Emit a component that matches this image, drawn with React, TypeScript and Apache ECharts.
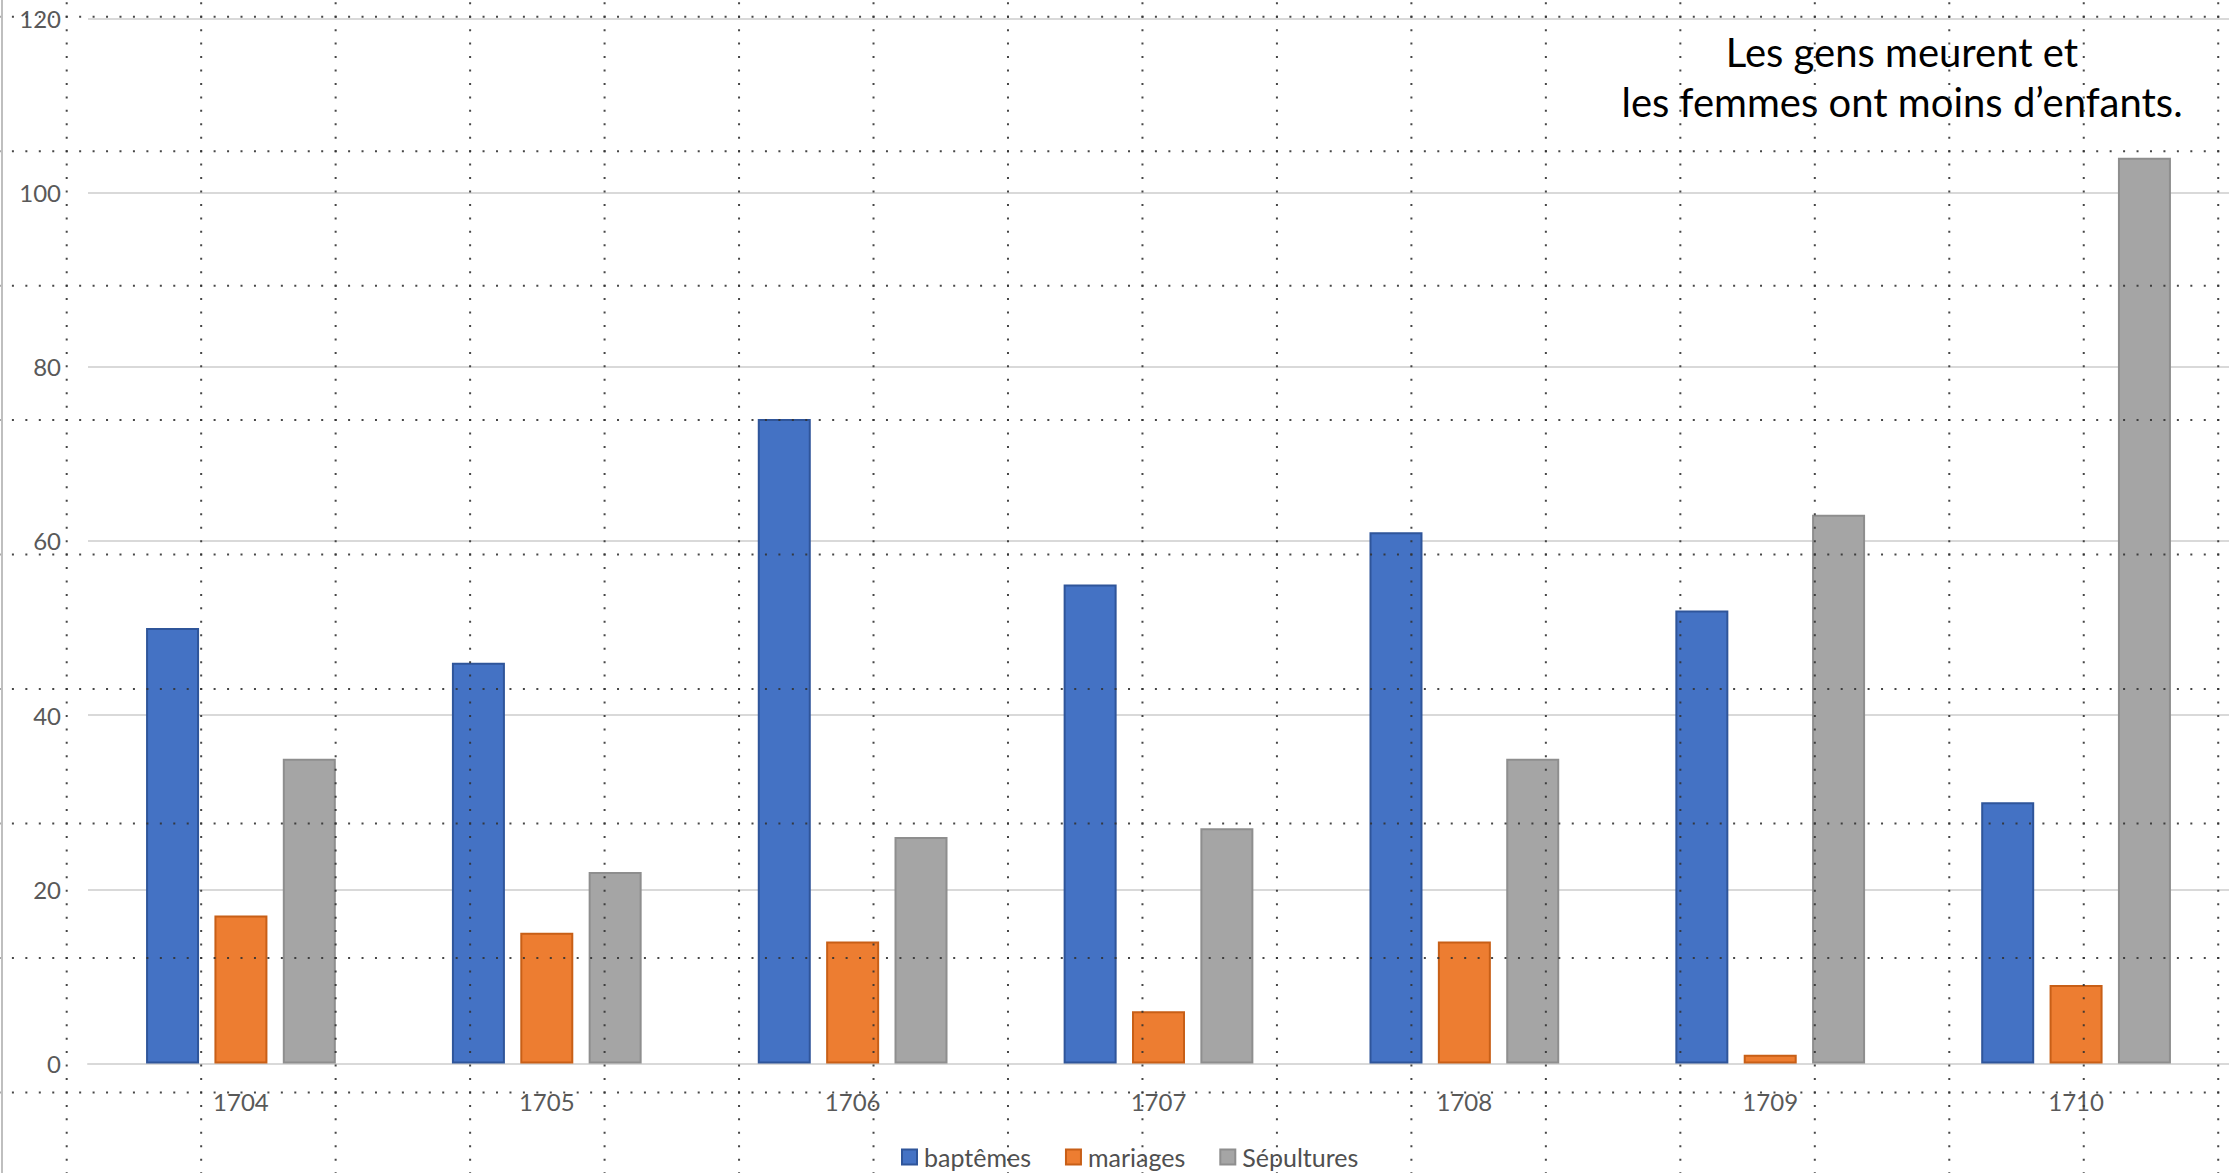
import React, { useEffect, useRef } from "react";
import * as echarts from "echarts";

// Parish register counts per year
const years = ["1704", "1705", "1706", "1707", "1708", "1709", "1710"];
const baptemes = [50, 46, 74, 55, 61, 52, 30];
const mariages = [17, 15, 14, 6, 14, 1, 9];
const sepultures = [35, 22, 26, 27, 35, 63, 104];
const seriesNames = ["baptêmes", "mariages", "Sépultures"];
const yTicks = { min: 0, max: 120, interval: 20 };

const W = 2229;
const H = 1173;
const FONT = "Lato, 'Noto Sans', sans-serif";

// Dotted layout grid laid over the whole slide
function dottedGrid() {
  const step = 134.47;
  const pitch = step / 10;
  const ox = 66.7;
  const oy = 16.7;
  const els: any[] = [];
  const style = { stroke: "#333333", lineWidth: 2, lineDash: [2, pitch - 2], opacity: 0.9 };
  for (let i = 0; i < 17; i++) {
    const x = ox + i * step;
    els.push({
      type: "line",
      silent: true,
      z: 100,
      shape: { x1: x, y1: oy - 2 * pitch - 1, x2: x, y2: H },
      style,
    });
  }
  for (let j = 0; j < 9; j++) {
    const y = oy + j * step;
    els.push({
      type: "line",
      silent: true,
      z: 100,
      shape: { x1: ox - 5 * pitch - 1, y1: y, x2: W, y2: y },
      style,
    });
  }
  return els;
}

export default function App() {
  const ref = useRef<HTMLDivElement>(null);

  useEffect(() => {
    document.body.style.margin = "0";
    const chart = echarts.init(ref.current!, null, { renderer: "svg" });

    const barStyle = (fill: string, border: string) => ({
      color: fill,
      borderColor: border,
      borderWidth: 2,
    });

    chart.setOption({
      animation: false,
      backgroundColor: "#ffffff",
      textStyle: { fontFamily: FONT },
      grid: { left: 88, top: 18.3, width: 2144, height: 1045.2, containLabel: false },
      legend: {
        data: seriesNames,
        left: 896,
        top: 1139,
        itemWidth: 15,
        itemHeight: 15,
        itemGap: 34,
        icon: "rect",
        textStyle: {
          fontFamily: FONT,
          fontSize: 25,
          lineHeight: 26,
          color: "#505050",
          padding: [0, 0, 0, 2],
        },
      },
      xAxis: {
        type: "category",
        data: years,
        axisLine: { show: true, lineStyle: { color: "#D9D9D9", width: 2 } },
        axisTick: { show: false },
        axisLabel: { fontFamily: FONT, fontSize: 24, color: "#595959", margin: 26 },
        splitLine: { show: false },
      },
      yAxis: {
        type: "value",
        min: yTicks.min,
        max: yTicks.max,
        interval: yTicks.interval,
        axisLine: { show: false },
        axisTick: { show: false },
        axisLabel: { fontFamily: FONT, fontSize: 24, color: "#595959", margin: 27 },
        splitLine: { show: true, lineStyle: { color: "#D9D9D9", width: 2 } },
      },
      series: [
        {
          name: seriesNames[0],
          type: "bar",
          data: baptemes,
          barWidth: 53,
          barGap: "29%",
          itemStyle: barStyle("#4472C4", "#2F559A"),
        },
        {
          name: seriesNames[1],
          type: "bar",
          data: mariages,
          barWidth: 53,
          barGap: "29%",
          itemStyle: barStyle("#ED7D31", "#C85F17"),
        },
        {
          name: seriesNames[2],
          type: "bar",
          data: sepultures,
          barWidth: 53,
          barGap: "29%",
          itemStyle: barStyle("#A5A5A5", "#8E8E8E"),
        },
      ],
      graphic: [
        {
          type: "rect",
          silent: true,
          z: 90,
          shape: { x: 1, y: 0, width: 2, height: H },
          style: { fill: "#BFBFBF" },
        },
        {
          type: "text",
          silent: true,
          z: 95,
          x: 1902,
          y: 77,
          style: {
            text: "Les gens meurent et\nles femmes ont moins d’enfants.",
            align: "center",
            verticalAlign: "middle",
            fontFamily: FONT,
            fontSize: 40,
            lineHeight: 50,
            fill: "#000000",
          },
        },
        ...dottedGrid(),
      ],
    });

    return () => chart.dispose();
  }, []);

  return <div ref={ref} style={{ width: W, height: H, background: "#fff" }} />;
}
